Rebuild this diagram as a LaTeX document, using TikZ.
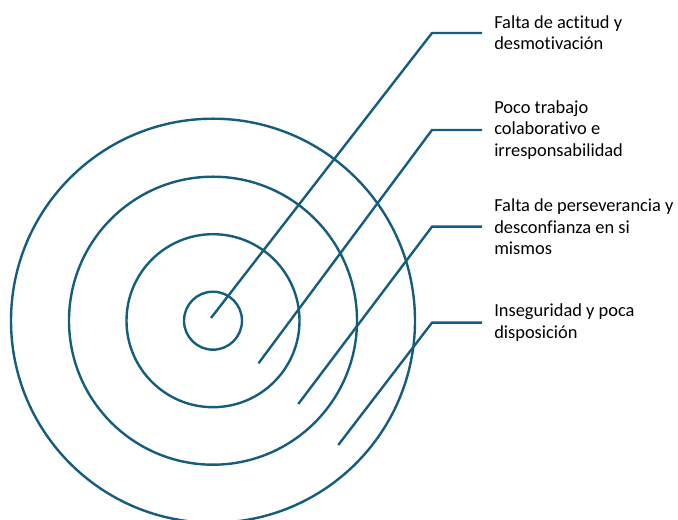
\documentclass[tikz,border=0pt]{standalone}
\usepackage{fontspec}
\setmainfont[Ligatures=NoCommon]{Carlito}
\usepackage{tkz-euclide}
\definecolor{RingClr}{RGB}{22,92,125}

\begin{document}
\begin{tikzpicture}[x=0.75pt,y=0.75pt,
  ring/.style={line width=1.8pt,color=RingClr},
  lbl/.style={anchor=west,align=left,inner xsep=9pt,inner ysep=0pt,
    font=\fontsize{13.8}{16}\selectfont}]
\useasboundingbox (0,0) rectangle (678,520);
\clip (0,0) rectangle (678,520);

\tkzDefPoints{213/199.3/O}
\tkzDefPoints{211/202/A1,432/487/B1,482/487/E1,
  258.5/156.7/A2,432/390/B2,482/390/E2,
  298.3/116/A3,432/293.3/B3,482/293.3/E3,
  338.3/75/A4,432/197.3/B4,482/197.3/E4}

\foreach \r in {29,86.5,144,202}
  \draw[ring] (O) circle[radius=\r];

\node[lbl] (L1) at (E1) {Falta de actitud y\\desmotivación};
\node[lbl] (L2) at (E2) {Poco trabajo\\colaborativo e\\irresponsabilidad};
\node[lbl] (L3) at (E3) {Falta de perseverancia y\\desconfianza en si\\mismos};
\node[lbl] (L4) at (E4) {Inseguridad y poca\\disposición};

\foreach \i in {1,...,4}
  \draw[ring] (A\i) -- (B\i) -- (L\i.west);

\end{tikzpicture}
\end{document}
